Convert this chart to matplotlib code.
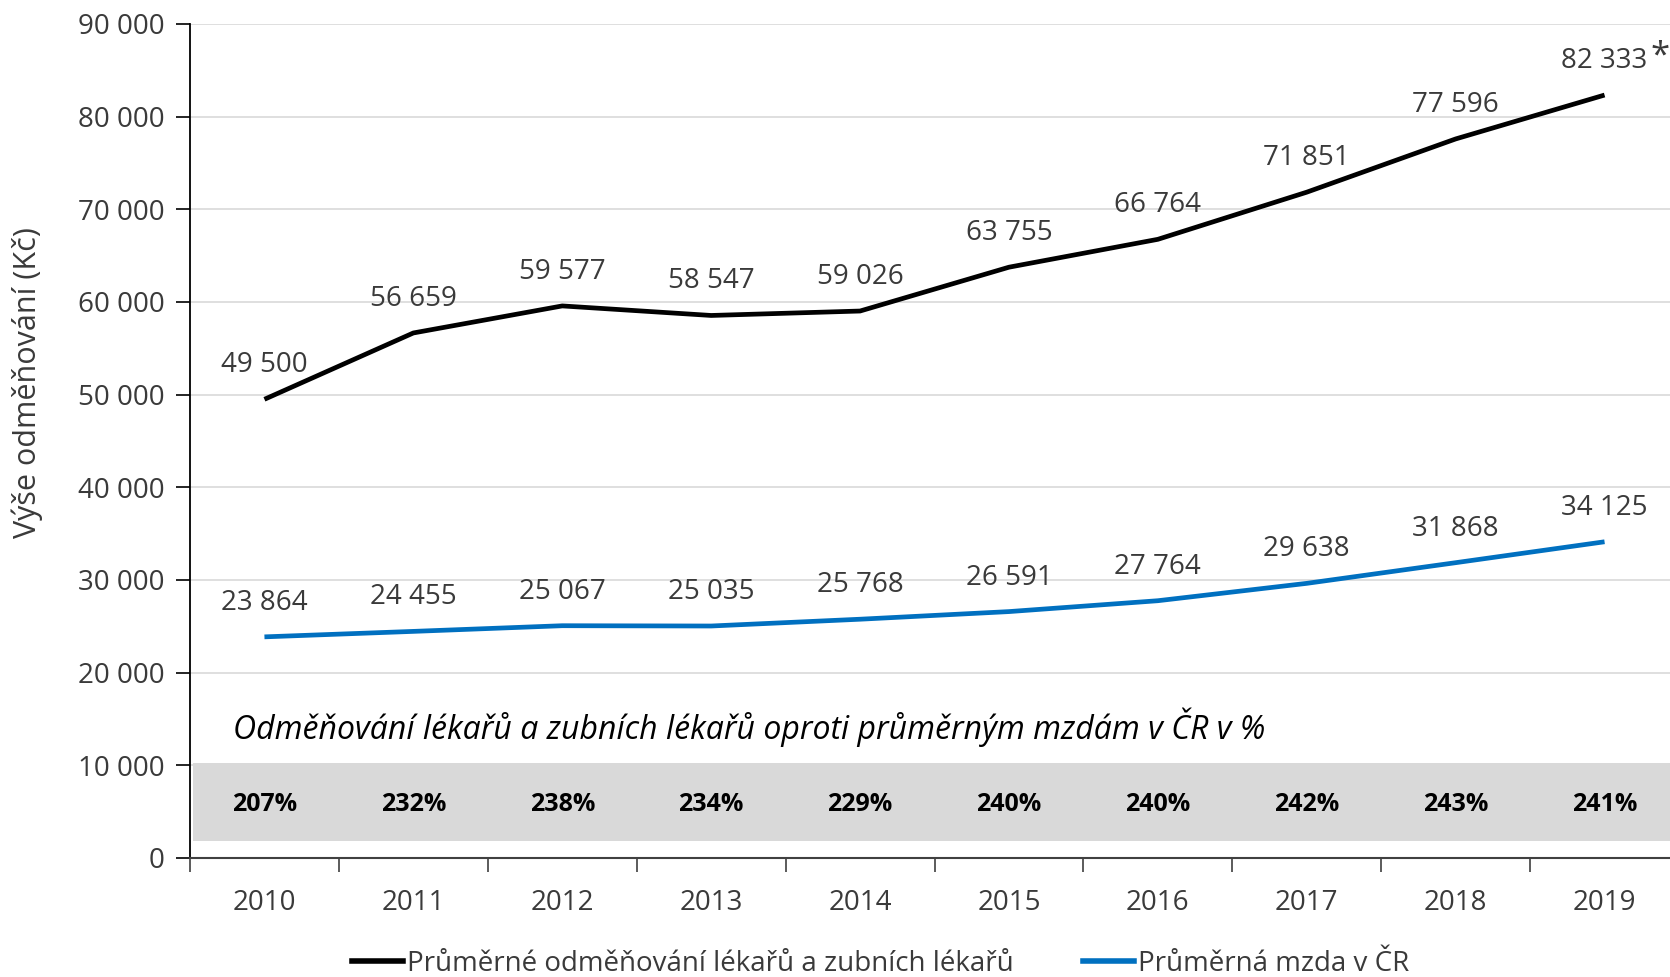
import matplotlib
matplotlib.use("Agg")
import matplotlib.pyplot as plt
from matplotlib.lines import Line2D
from matplotlib.ticker import FuncFormatter, MultipleLocator, FixedLocator

plt.rcParams['font.family'] = ['Open Sans', 'DejaVu Sans']

years = ["2010", "2011", "2012", "2013", "2014", "2015", "2016", "2017", "2018", "2019"]
doctors = [49500, 56659, 59577, 58547, 59026, 63755, 66764, 71851, 77596, 82333]
wages = [23864, 24455, 25067, 25035, 25768, 26591, 27764, 29638, 31868, 34125]
ratios = ["207%", "232%", "238%", "234%", "229%", "240%", "240%", "242%", "243%", "241%"]
doctors_label = "Průměrné odměňování lékařů a zubních lékařů"
wages_label = "Průměrná mzda v ČR"
ylabel = "Výše odměňování (Kč)"
band_title = "Odměňování lékařů a zubních lékařů oproti průměrným mzdám v ČR v %"

BLACK = "#000000"
BLUE = "#0070C0"
TXT = "#3a3a3a"

fig = plt.figure(figsize=(16.7, 9.77), dpi=100)
ax = fig.add_axes([190/1670, 119/977, (1679-190)/1670, (858-24)/977])

x = list(range(len(years)))
ax.set_xlim(-0.5, len(years) - 0.5)
ax.set_ylim(0, 90000)

# grey band with ratios
ax.axhspan(1800, 10300, xmin=0.002, xmax=1, color="#D9D9D9", zorder=1, lw=0)
for i, r in enumerate(ratios):
    ax.text(i, 5800, r, ha="center", va="center", fontsize=18, fontweight="bold", color="#000000", zorder=3)
ax.text(-0.21, 14100, band_title, ha="left", va="center", fontsize=23, style="italic", color="#000000")

ax.plot(x, doctors, color=BLACK, lw=3.4, zorder=4, solid_capstyle="butt")
ax.plot(x, wages, color=BLUE, lw=3.4, zorder=4, solid_capstyle="butt")

def fmt(v):
    return f"{v:,}".replace(",", " ")

for i in x:
    ax.annotate(fmt(doctors[i]), (i, doctors[i]), xytext=(0, 24.5), textcoords="offset points",
                ha="center", va="center", fontsize=20, color=TXT)
    ax.annotate(fmt(wages[i]), (i, wages[i]), xytext=(0, 24.5), textcoords="offset points",
                ha="center", va="center", fontsize=20, color=TXT)
ax.annotate("*", (x[-1], doctors[-1]), xytext=(40, 28), textcoords="offset points",
            ha="center", va="center", fontsize=25, color=TXT)

ax.yaxis.set_major_locator(MultipleLocator(10000))
ax.yaxis.set_major_formatter(FuncFormatter(lambda v, p: fmt(int(v))))
ax.grid(axis="y", color="#D9D9D9", lw=1.2, zorder=0)
ax.set_axisbelow(True)

ax.xaxis.set_major_locator(FixedLocator(x))
ax.set_xticklabels(years)
ax.xaxis.set_minor_locator(FixedLocator([i + 0.5 for i in x[:-1]] + [-0.5]))
ax.tick_params(axis="x", which="major", length=0, pad=22, labelsize=20, labelcolor=TXT)
ax.tick_params(axis="x", which="minor", length=10, width=1.2, color="#404040")
ax.tick_params(axis="y", length=10, width=1.2, color="#000000", labelsize=20, labelcolor=TXT, pad=8)

for s in ["top", "right"]:
    ax.spines[s].set_visible(False)
ax.spines["left"].set_color("#000000")
ax.spines["left"].set_linewidth(1.3)
ax.spines["bottom"].set_color("#404040")
ax.spines["bottom"].set_linewidth(1.5)

fig.text(27/1670, 1 - 383/977, ylabel, rotation=90, ha="center", va="center", fontsize=22, color=TXT)

handles = [Line2D([], [], color=BLACK, lw=4), Line2D([], [], color=BLUE, lw=4)]
fig.legend(handles, [doctors_label, wages_label], loc="center left",
           bbox_to_anchor=(352/1670, 13/977), ncol=2, frameon=False, fontsize=20,
           handlelength=1.85, handletextpad=0.12, columnspacing=2.5, borderpad=0, borderaxespad=0,
           labelcolor=TXT)

fig.savefig("out.png", dpi=100)
